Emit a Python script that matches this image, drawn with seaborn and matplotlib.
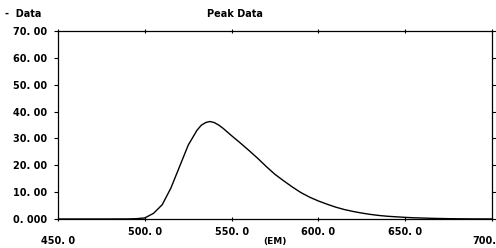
import numpy as np
import pandas as pd
import matplotlib
matplotlib.use("Agg")
import matplotlib.pyplot as plt
import matplotlib.transforms as mtransforms
import seaborn as sns

# Espectro (longitud de onda / intensidad)
wavelength = [450, 460, 470, 480, 490, 495, 500, 505, 510, 515, 520, 525, 530,
              532.5, 535, 537.5, 540, 542.5, 545, 550, 555, 560, 565, 570, 575,
              580, 585, 590, 595, 600, 605, 610, 615, 620, 625, 630, 635, 640,
              645, 650, 655, 660, 665, 670, 675, 680, 685, 690, 695, 700]
intensity = [0.0, 0.0, 0.0, 0.0, 0.02, 0.1, 0.4, 2.1, 5.3, 11.5, 19.5, 27.5, 33.0,
             34.9, 35.9, 36.3, 35.9, 35.0, 33.8, 31.0, 28.3, 25.5, 22.6, 19.5, 16.6,
             14.2, 11.9, 9.8, 8.1, 6.7, 5.5, 4.4, 3.5, 2.8, 2.2, 1.7, 1.3, 1.0,
             0.8, 0.6, 0.45, 0.35, 0.25, 0.18, 0.12, 0.08, 0.05, 0.03, 0.02, 0.01]

xticks = [450, 500, 550, 600, 650, 700]
xtick_labels = ["450. 0", "500. 0", "550. 0", "600. 0", "650. 0", "700."]
yticks = [0, 10, 20, 30, 40, 50, 60, 70]
ytick_labels = ["0. 000", "10. 00", "20. 00", "30. 00", "40. 00", "50. 00", "60. 00", "70. 00"]

df = pd.DataFrame({"wl": wavelength, "val": intensity})

sns.set_theme(style="white")
plt.rcParams["font.family"] = ["DejaVu Sans"]
plt.rcParams["text.color"] = "black"
plt.rcParams["axes.labelcolor"] = "black"
plt.rcParams["xtick.color"] = "black"
plt.rcParams["ytick.color"] = "black"

fig = plt.figure(figsize=(4.96, 2.48), dpi=100)
ax = fig.add_axes([0.117, 0.117, 0.875, 0.758])

sns.lineplot(data=df, x="wl", y="val", color="black", lw=1.0, ax=ax)

ax.set_xlim(450, 700)
ax.set_ylim(0, 70)
ax.set_xticks(xticks)
ax.set_xticklabels(xtick_labels, fontsize=7, fontweight="bold")
ax.set_yticks(yticks)
ax.set_yticklabels(ytick_labels, fontsize=7, fontweight="bold")

ax.tick_params(axis="both", length=3, width=0.8, color="black", direction="inout",
               bottom=True, left=True, top=True, right=True, pad=4)
ax.tick_params(axis="y", direction="out", pad=5)

# 450 y 700 van más abajo
ticks = ax.xaxis.get_major_ticks()
ticks[0].set_pad(11)
ticks[-1].set_pad(11)
ticks[-1].label1.set_horizontalalignment("right")
ticks[-1].label1.set_transform(ticks[-1].label1.get_transform() +
                               mtransforms.ScaledTranslation(4 / 100, 0, fig.dpi_scale_trans))

for s in ax.spines.values():
    s.set_color("black")
    s.set_linewidth(0.9)

ax.set_xlabel("(EM)", fontsize=6.5, fontweight="bold")
ax.xaxis.set_label_coords(0.5, -0.095)
ax.set_ylabel("")
fig.text(235 / 496, 1 - 14 / 248, "Peak Data", ha="center", va="center",
         fontsize=7, fontweight="bold")
fig.text(5 / 496, 1 - 14 / 248, "-  Data", ha="left", va="center",
         fontsize=7, fontweight="bold")

fig.savefig("out.png", dpi=100, facecolor="white")
